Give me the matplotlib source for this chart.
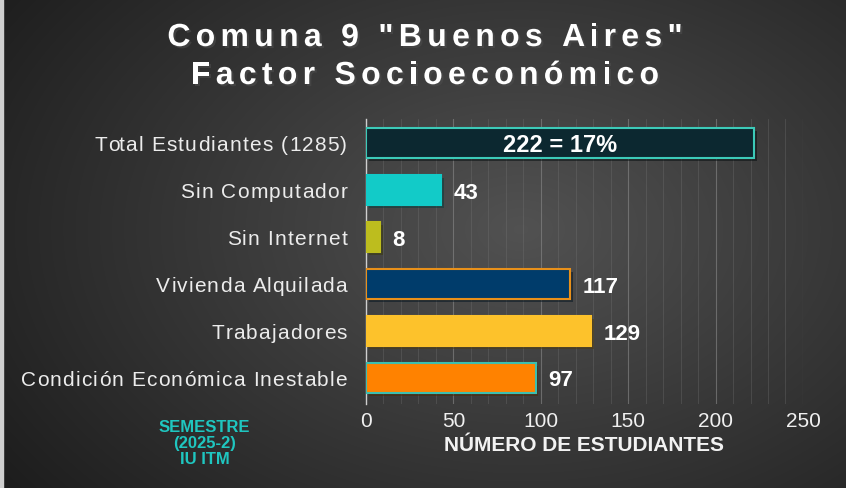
import numpy as np
import matplotlib
matplotlib.use("Agg")
from matplotlib import pyplot as plt
from matplotlib import patheffects as pe
from matplotlib.patches import Rectangle
from matplotlib.transforms import IdentityTransform

categorias = ['Total Estudiantes (1285)', 'Sin Computador', 'Sin Internet',
              'Vivienda Alquilada', 'Trabajadores', 'Condición Económica Inestable']
valores = [222, 43, 8, 117, 129, 97]
etiquetas = ['222 = 17%', '43', '8', '117', '129', '97']
colores = ['#0c2830', '#12cbc8', '#bdbd1e', '#003c6b', '#fdc22b', '#ff8200']
bordes = ['#3ccab8', '#12cbc8', '#bdbd1e', '#e8901a', '#fdc22b', '#3cbfb0']
ticks = [0, 50, 100, 150, 200, 250]

plt.rcParams['font.family'] = ['Liberation Sans', 'DejaVu Sans']

fig = plt.figure(figsize=(8.46, 4.89), dpi=100)
renderer = fig.canvas.get_renderer()


def ancho(s, **kw):
    # avance horizontal del texto en pixeles (incluye espacios finales)
    t = fig.text(0, 0, s + '|', **kw)
    r = fig.text(0, 0, '|', **kw)
    w = t.get_window_extent(renderer).width - r.get_window_extent(renderer).width
    t.remove()
    r.remove()
    return w


def texto_espaciado(x, y, s, extra, ha='center', **kw):
    # dibuja el texto letra por letra sobre la linea base y, con espacio extra
    total = ancho(s, **kw) + extra * (len(s) - 1)
    if ha == 'center':
        x0 = x - total / 2
    elif ha == 'right':
        x0 = x - total
    else:
        x0 = x
    for i, c in enumerate(s):
        if c == ' ':
            continue
        xi = x0 + ancho(s[:i], **kw) + extra * i
        fig.text(xi, y, c, ha='left', va='baseline', transform=IdentityTransform(), **kw)


# fondo con degradado radial
bg = fig.add_axes([0, 0, 1, 1], zorder=-10)
yy, xx = np.mgrid[0:489, 0:846]
r = np.sqrt(((xx - 520) / 620) ** 2 + ((yy - 230) / 420) ** 2)
gris = np.clip(0.32 - 0.2 * r, 0.09, 0.32)
bg.imshow(np.dstack([gris, gris, gris]), aspect='auto', extent=[0, 1, 0, 1])
bg.add_patch(Rectangle((0, 0), 2.5 / 846, 1, color='#cfcfcf', transform=bg.transAxes))
bg.axis('off')

ax = fig.add_axes([0.4326, 0.172, 0.5165, 0.5826])
ax.set_facecolor('none')
y = np.arange(len(categorias))
sombra = [pe.SimplePatchShadow(offset=(2, -2), alpha=0.5), pe.Normal()]
barras = ax.barh(y, valores, height=0.64, color=colores, edgecolor=bordes, linewidth=1.5, zorder=3)
for b in barras:
    b.set_path_effects(sombra)

for i, (v, t) in enumerate(zip(valores, etiquetas)):
    if i == 0:
        ax.text(v / 2, i + 0.02, t, ha='center', va='center', color='white',
                fontsize=17, fontweight='bold', zorder=4)
    else:
        ax.text(v + 7, i + 0.04, t, ha='left', va='center', color='white',
                fontsize=16, fontweight='bold', zorder=4)

ax.set_xlim(0, 250)
ax.set_ylim(5.55, -0.52)
ax.set_yticks(y)
ax.set_yticklabels([])
ax.set_xticks(ticks)
ax.set_xticklabels([str(t) for t in ticks], color='#f0f0f0', fontsize=15)
ax.set_xticks(np.arange(0, 251, 10), minor=True)
ax.tick_params(axis='both', length=0, which='both')
ax.tick_params(axis='x', pad=5)
ax.grid(axis='x', which='major', color='#8a8a8a', linewidth=0.8, alpha=0.6, zorder=0)
ax.grid(axis='x', which='minor', color='#7a7a7a', linewidth=0.6, alpha=0.35, zorder=0)
for s in ['top', 'right', 'bottom']:
    ax.spines[s].set_visible(False)
ax.spines['left'].set_color('#cfcfcf')
ax.spines['left'].set_linewidth(1)
ax.set_xlabel('NÚMERO DE ESTUDIANTES', color='#f2f2f2', fontsize=15, fontweight='bold', labelpad=4)

# etiquetas de categorias con espaciado
for i, c in enumerate(categorias):
    py = ax.transData.transform((0, i))[1]
    texto_espaciado(347, py - 7, c, 1.2, ha='right', color='#ececec', fontsize=15)

sombra_txt = [pe.withSimplePatchShadow(offset=(1.5, -1.5), alpha=0.6)]
texto_espaciado(425, 489 - 47, 'Comuna 9 "Buenos Aires"', 5.3, color='white',
                fontsize=23, fontweight='bold', path_effects=sombra_txt)
texto_espaciado(425, 489 - 85, 'Factor Socioeconómico', 5.3, color='white',
                fontsize=23, fontweight='bold', path_effects=sombra_txt)

fig.text(0.242, 0.093, 'SEMESTRE\n(2025-2)\nIU ITM', ha='center', va='center',
         color='#1fc6c0', fontsize=12, fontweight='bold', linespacing=1.05)

fig.savefig('out.png', dpi=100)
